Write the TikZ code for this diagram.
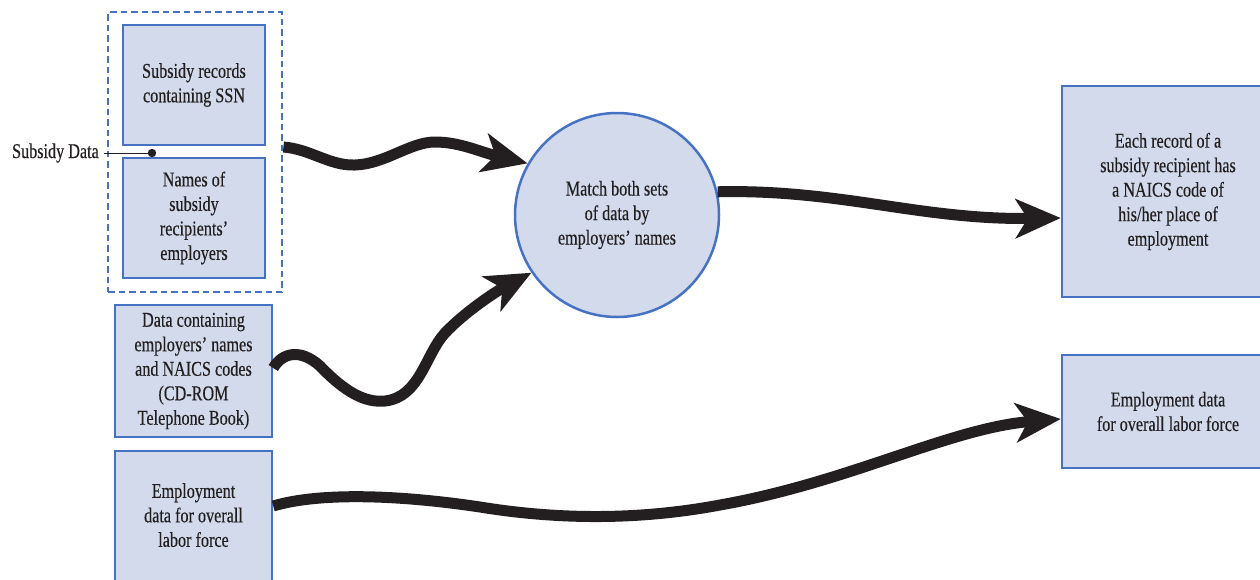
\documentclass[tikz,border=0pt]{standalone}
\usepackage{fontspec}
\setmainfont{Liberation Serif}[FakeStretch=0.77,FakeBold=0.3]
\usetikzlibrary{arrows.meta,calc}
\definecolor{boxfill}{RGB}{211,218,236}
\definecolor{boxline}{RGB}{70,114,196}
\definecolor{ink}{RGB}{35,31,32}
\tikzset{
  databox/.style={draw=boxline,fill=boxfill,line width=2.5pt,align=center,text=ink,
    font=\fontsize{21}{24.5}\selectfont,inner sep=0pt},
  groupbox/.style={draw=boxline,line width=2.8pt,dash pattern=on 6.5pt off 4pt},
  flow/.style={draw=ink,line width=11pt,-{Stealth[length=45pt,width=39pt,inset=12pt]}},
  lbl/.style={text=ink,font=\fontsize{21}{24.5}\selectfont,inner sep=0pt}
}
\begin{document}
\begin{tikzpicture}[x=1pt,y=-1pt]
\useasboundingbox (0,0) rectangle (1260,579);
% group
\node[groupbox,minimum width=174pt,minimum height=280pt] (grp) at (195,152) {};
\node[databox,minimum width=142pt,minimum height=120pt] (r1) at (194,85) {Subsidy records\\containing SSN};
\node[databox,minimum width=142pt,minimum height=120pt] (r2) at (194,218) {Names of\\subsidy\\recipients'\\employers};
\node[databox,minimum width=157pt,minimum height=132pt] (r3) at (193.5,371) {Data containing\\employers' names\\and NAICS codes\\(CD-ROM\\Telephone Book)};
\node[databox,minimum width=157pt,minimum height=150pt] (r4) at (193.5,526) {Employment\\data for overall\\labor force\\[-2.5pt]\mbox{}};
\node[databox,circle,minimum size=204pt] (c) at (617,215) {Match both sets\\of data by\\employers' names};
\node[databox,minimum width=212pt,minimum height=211pt] (R1) at (1168,191.5) {Each record of a\\subsidy recipient has\\a NAICS code of\\his/her place of\\employment};
\node[databox,minimum width=212pt,minimum height=113pt] (R2) at (1168,411.5) {Employment data\\for overall labor force};
% label
\node[lbl,anchor=east] (sd) at (99,153) {Subsidy Data};
\coordinate (dot) at (152,153);
\draw[ink,line width=1pt] (sd.east) ++(5pt,0) -- (dot);
\fill[ink] (dot) circle (4.2pt);
% flows
\draw[flow] ([yshift=5pt]grp.east) .. controls (310,149) and (330,166) .. (355,165)
  .. controls (385,164) and (410,142) .. (435,142)
  .. controls (460,142) and (480,152) .. (c.150);
\draw[flow] ([yshift=3pt]r3.east) .. controls (282,353) and (300,348) .. (320,366)
  .. controls (345,392) and (365,403) .. (385,401)
  .. controls (420,397) and (425,355) .. (445,333)
  .. controls (465,312) and (495,292) .. (c.214);
\draw[flow] (c.13) .. controls (840,189) and (920,220) .. ([yshift=-26.5pt]R1.west);
\draw[flow] ([yshift=20pt]r4.east) .. controls (320,492) and (400,495) .. (480,507)
  .. controls (560,520) and (640,520) .. (720,505)
  .. controls (850,482) and (950,428) .. ([yshift=-7.5pt]R2.west);
\end{tikzpicture}
\end{document}
